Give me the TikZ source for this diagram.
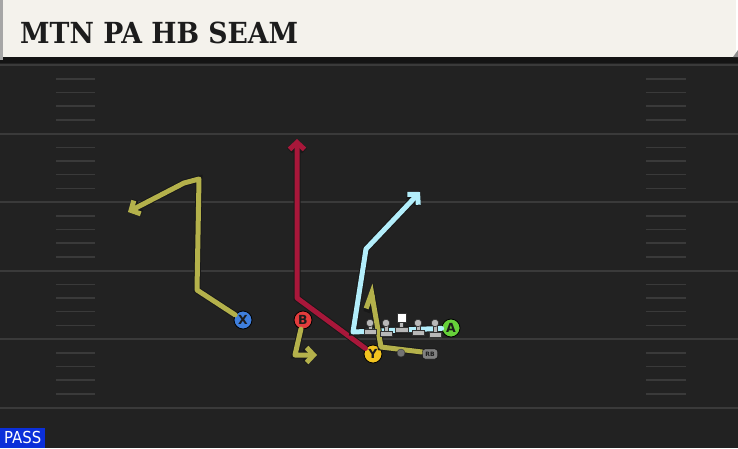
\documentclass[tikz,border=0pt]{standalone}
\usepackage{fontspec}
\usepackage{graphicx}
\usepackage{tikz}
\usetikzlibrary{arrows.meta}
\newfontfamily\titlefont{DejaVu Serif}
\newfontfamily\labfont{DejaVu Sans}
\definecolor{field}{HTML}{222222}
\definecolor{yard}{HTML}{3A3A3A}
\definecolor{header}{HTML}{F4F2EC}
\definecolor{ink}{HTML}{1C1C1C}
\definecolor{olive}{HTML}{B4B14B}
\definecolor{crimson}{HTML}{A8173A}
\definecolor{sky}{HTML}{B3EEFB}
\definecolor{xblue}{HTML}{3F7FDD}
\definecolor{bred}{HTML}{E23C3C}
\definecolor{ygold}{HTML}{F2C31F}
\definecolor{agreen}{HTML}{66D13A}
\definecolor{oline}{HTML}{B8B8B8}
\definecolor{passblue}{HTML}{0B2FD9}
\tikzset{
  yardln/.style={draw=yard, line width=2pt},
  hashln/.style={draw=yard, line width=1.8pt},
  route/.style={line width=5pt, line cap=round, line join=round,
    preaction={draw=black!90, line width=7pt}},
  tip/.style={-{Straight Barb[length=7pt,width=15pt]}},
  player/.style={circle, draw=black, line width=0.8pt, minimum size=18pt,
    inner sep=0pt, font=\labfont\bfseries\fontsize{12.5}{12.5}\selectfont, text=ink},
  ohead/.style={circle, draw=black!80, fill=oline, line width=0.6pt, minimum size=7.5pt, inner sep=0pt},
  obase/.style={fill=oline, draw=black!80, line width=0.5pt},
}
\begin{document}
\begin{tikzpicture}[x=1pt, y=-1pt]
  \useasboundingbox (0,0) rectangle (738,448);
  % field and header
  \fill[field] (0,57) rectangle (738,448);
  \fill[black!92] (0,57) rectangle (738,63);
  \fill[header] (3,0) rectangle (736,57);
  \fill[black!35] (0,0) rectangle (3,60);
  \fill[black!45] (733,57) -- (738,50) -- (738,57) -- cycle;
  \node[anchor=base west, inner sep=0pt, text=ink] (title) at (20,43)
    {\scalebox{0.92}[1]{\titlefont\bfseries\fontsize{29}{29}\selectfont MTN PA HB SEAM}};
  % yard lines and hashes
  \foreach \yl in {65,133.5,202,270.5,339,407.5}
    \draw[yardln] (0,\yl) -- (738,\yl);
  \foreach \yl in {65,133.5,202,270.5,339}
    \foreach \dy in {14,27.5,41,55} {
      \draw[hashln] (56,\yl+\dy) -- (95,\yl+\dy);
      \draw[hashln] (646,\yl+\dy) -- (686,\yl+\dy);
    }
  % players
  \node[player, fill=xblue] (X) at (243,320) {X};
  \node[player, fill=bred] (B) at (303,320) {B};
  \node[player, fill=ygold] (Y) at (373,354) {Y};
  \node[player, fill=agreen] (A) at (451,328) {A};
  \coordinate (rbroot) at (422,352);
  % routes
  \coordinate (xbend) at (197,290);
  \coordinate (xtop) at (199,179);
  \coordinate (xcurl) at (184,183);
  \coordinate (xend) at (128,212);
  \draw[route, olive, tip] (X) -- (xbend) -- (xtop) -- (xcurl) -- (xend);
  \coordinate (ybend) at (297,298);
  \coordinate (yend) at (297,139);
  \draw[route, crimson, tip] (Y) -- (ybend) -- (yend);
  \coordinate (bbend) at (295,355);
  \coordinate (bend) at (317,355);
  \draw[route, olive, tip] (B) -- (bbend) -- (bend);
  \coordinate (aleft) at (353,332);
  \coordinate (abend) at (366,249);
  \coordinate (aend) at (420,192);
  \draw[route, sky, tip] (A) -- (aleft) -- (abend) -- (aend);
  \coordinate (rbbend) at (381,347);
  \coordinate (rbend) at (370,284);
  \draw[route, olive, -{Straight Barb[left,length=14pt,width=16pt]}] (rbroot) -- (rbbend) -- (rbend);
  % line
  \foreach \ox/\oy in {370/329,386/331,418/330,435/332} {
    \fill[obase] (\ox-2,325) rectangle (\ox+2,\oy);
    \fill[obase] (\ox-6,\oy) rectangle (\ox+6,\oy+5);
    \node[ohead] at (\ox,323) {};
  }
  \fill[obase] (399,322) rectangle (403,327);
  \fill[obase] (395,327) rectangle (408,332);
  \node[draw=black!80, fill=white, line width=0.6pt, minimum size=9pt, inner sep=0pt] (C) at (402,317.5) {};
  \node[circle, draw=black!80, fill=black!55, minimum size=8pt, inner sep=0pt] (QB) at (401,353) {};
  \node[draw=black, fill=black!50, rounded corners=2.5pt, minimum width=15pt, minimum height=10pt,
    inner sep=0pt, text=ink, font=\labfont\bfseries\fontsize{6}{6}\selectfont] (RB) at (430,354) {RB};
  % play type
  \node[anchor=south west, fill=passblue, text=white, inner sep=0pt, minimum width=45pt, minimum height=20pt,
    font=\labfont\fontsize{16.5}{16.5}\selectfont] (pass) at (0,448) {\scalebox{0.9}[1]{PASS}};
\end{tikzpicture}
\end{document}
